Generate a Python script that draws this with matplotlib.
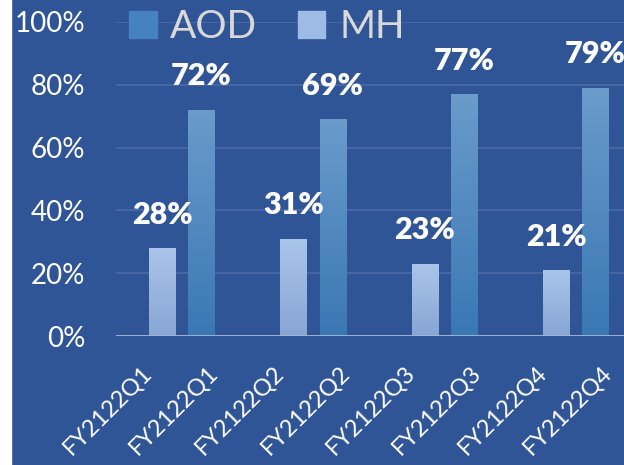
import matplotlib
matplotlib.use('Agg')
import matplotlib.pyplot as plt
import matplotlib.patches as mpatches
import numpy as np

# data (percent)
categories = ['FY2122Q1', 'FY2122Q1', 'FY2122Q2', 'FY2122Q2',
              'FY2122Q3', 'FY2122Q3', 'FY2122Q4', 'FY2122Q4']
aod = [np.nan, 72, np.nan, 69, np.nan, 77, np.nan, 79]
mh = [28, np.nan, 31, np.nan, 23, np.nan, 21, np.nan]
yticks = [0, 20, 40, 60, 80, 100]

BG = '#2F5597'
plt.rcParams['font.family'] = ['Lato', 'DejaVu Sans']

fig = plt.figure(figsize=(6.24, 4.65), dpi=100, facecolor=BG)
fig.patches.append(mpatches.Rectangle((0, 0), 11/624, 1, transform=fig.transFigure,
                                      color='white', zorder=0))
ax = fig.add_axes([116/624, 129/465, 8*65.7/624, 314/465])
ax.set_facecolor(BG)

xs = np.arange(len(categories))
w = 0.4

def grad_bars(bars, top, bottom):
    c0 = np.array(matplotlib.colors.to_rgb(bottom))
    c1 = np.array(matplotlib.colors.to_rgb(top))
    t = np.linspace(0, 1, 64)[:, None]
    img = (c0 * (1 - t) + c1 * t)[:, None, :]
    for b in bars:
        h = b.get_height()
        if not np.isfinite(h) or h <= 0:
            continue
        x0 = b.get_x()
        im = ax.imshow(img, origin='lower', aspect='auto', zorder=3,
                       extent=[x0, x0 + b.get_width(), 0, h])
        im.set_clip_path(b)

bars_aod = ax.bar(xs - w/2, aod, w, color='#4A86C0', zorder=2, label='AOD')
bars_mh = ax.bar(xs + w/2, mh, w, color='#9DB9E2', zorder=2, label='MH')
grad_bars(bars_aod, '#6A9BCB', '#3A78B4')
grad_bars(bars_mh, '#A9C5EA', '#88A6D4')

for bars, vals in [(bars_aod, aod), (bars_mh, mh)]:
    for b, v in zip(bars, vals):
        if np.isfinite(v):
            ax.annotate(f'{v:.0f}%', (b.get_x() + b.get_width()/2, v),
                        xytext=(0, 14), textcoords='offset points',
                        ha='center', va='bottom', color='white',
                        fontsize=22, fontweight='heavy', zorder=5)

ax.set_xlim(-0.5, len(categories) - 0.5)
ax.set_ylim(0, 100)
ax.set_yticks(yticks)
ax.set_yticklabels([f'{t}%' for t in yticks])
ax.set_xticks(xs)
ax.set_xticklabels(categories, rotation=45, ha='right', va='center',
                   rotation_mode='anchor')
ax.tick_params(axis='y', length=0, pad=22, labelsize=20, labelcolor='white')
ax.tick_params(axis='x', length=0, pad=24, labelsize=17, labelcolor='white')
ax.grid(axis='y', color='#4A6AA6', linewidth=1.2, zorder=0)
for s in ax.spines.values():
    s.set_visible(False)
ax.axhline(0, color='#A8B6D2', linewidth=2, zorder=4)

leg = fig.legend(handles=[mpatches.Patch(color='#4682BE', label='AOD'),
                          mpatches.Patch(color='#9DBBE4', label='MH')],
                 loc='center', bbox_to_anchor=(267/624, 1 - 27/465), ncol=2,
                 frameon=False, fontsize=28, handlelength=0.7, handleheight=0.7,
                 handletextpad=0.35, columnspacing=1.05)
for t in leg.get_texts():
    t.set_color('#D9D9D9')

fig.savefig('out.png', dpi=100, facecolor=BG)
